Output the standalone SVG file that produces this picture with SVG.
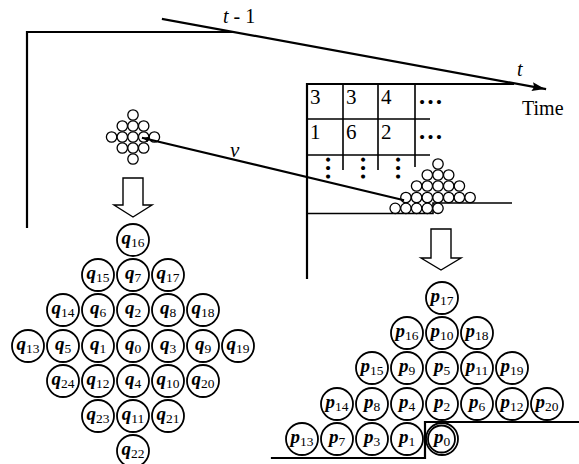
<svg xmlns="http://www.w3.org/2000/svg" width="579" height="464" viewBox="0 0 579 464">
<style>
.ln{stroke:#000;fill:none;stroke-width:2.2;stroke-linecap:square}
.tl{stroke:#000;fill:none;stroke-width:1.6}
.c{fill:#fff;stroke:#000;stroke-width:1.8}
.sc{fill:#fff;stroke:#000;stroke-width:1.3}
.ha{fill:#fff;stroke:#000;stroke-width:1.4;stroke-linejoin:miter}
.t{font-family:"Liberation Serif","Times New Roman",serif;font-size:20px;fill:#000}
.big{font-size:21px}
.it{font-style:italic}
.lb{font-family:"Liberation Serif","Times New Roman",serif;font-size:19px;font-weight:bold;font-style:italic;text-anchor:middle;fill:#000}
.sb{font-weight:normal;font-style:normal;font-size:13.5px}
.dots{font-family:"Liberation Serif","Times New Roman",serif;font-size:25px;font-weight:bold;fill:#000}
</style>
<defs>
<marker id="ah" markerUnits="userSpaceOnUse" markerWidth="14" markerHeight="10" refX="13" refY="4.5" orient="auto">
<path d="M0,0 L13,4.5 L0,9 L2,4.5 z" fill="#000"/>
</marker>
<marker id="sa" markerUnits="userSpaceOnUse" markerWidth="8" markerHeight="8" refX="6" refY="3" orient="auto-start-reverse">
<path d="M0,0 L6,3 L0,6 z" fill="#000"/>
</marker>
</defs>
<rect width="579" height="464" fill="#fff"/>

<g id="frame-t-1">
<path class="ln" d="M27,227 L27,32 L232,32"/>
<text class="t" x="223" y="23"><tspan class="it">t</tspan> - 1</text>
</g>

<g id="table">
<path class="ln" d="M307,84 L513,84 M307,84 L307,278"/>
<path class="tl" d="M307,119 L430,119 M307,155 L430,155 M343,84 L343,170 M378,84 L378,170 M415,84 L415,167"/>
<text class="t big" x="310" y="104">3</text>
<text class="t big" x="346" y="104">3</text>
<text class="t big" x="381" y="104">4</text>
<text class="dots" x="418" y="104">…</text>
<text class="t big" x="310" y="139">1</text>
<text class="t big" x="346" y="139">6</text>
<text class="t big" x="381" y="139">2</text>
<text class="dots" x="418" y="139">…</text>
<text class="dots" transform="translate(325.5,168) rotate(90)" text-anchor="middle">…</text>
<text class="dots" transform="translate(360.5,168) rotate(90)" text-anchor="middle">…</text>
<text class="dots" transform="translate(395.5,168) rotate(90)" text-anchor="middle">…</text>
<path class="tl" d="M307,213.5 L433,213.5 L433,203 L512,203"/>
</g>

<g id="time-labels">
<text class="t it" x="517" y="76">t</text>
<text class="t" x="522" y="115">Time</text>
</g>

<g id="small-q">
<circle class="sc" cx="133" cy="115" r="5.2"/>
<circle class="sc" cx="122.3" cy="126" r="5.2"/><circle class="sc" cx="133" cy="126" r="5.2"/><circle class="sc" cx="143.7" cy="126" r="5.2"/>
<circle class="sc" cx="111.6" cy="137" r="5.2"/><circle class="sc" cx="122.3" cy="137" r="5.2"/><circle class="sc" cx="133" cy="137" r="5.2"/><circle class="sc" cx="143.7" cy="137" r="5.2"/><circle class="sc" cx="154.4" cy="137" r="5.2"/>
<circle class="sc" cx="122.3" cy="148" r="5.2"/><circle class="sc" cx="133" cy="148" r="5.2"/><circle class="sc" cx="143.7" cy="148" r="5.2"/>
<circle class="sc" cx="133" cy="159" r="5.2"/>
</g>

<g id="small-p">
<circle class="sc" cx="438" cy="164" r="5.2"/>
<circle class="sc" cx="427.3" cy="175" r="5.2"/><circle class="sc" cx="438" cy="175" r="5.2"/><circle class="sc" cx="448.7" cy="175" r="5.2"/>
<circle class="sc" cx="416.6" cy="186" r="5.2"/><circle class="sc" cx="427.3" cy="186" r="5.2"/><circle class="sc" cx="438" cy="186" r="5.2"/><circle class="sc" cx="448.7" cy="186" r="5.2"/><circle class="sc" cx="459.4" cy="186" r="5.2"/>
<circle class="sc" cx="405.9" cy="197.5" r="5.2"/><circle class="sc" cx="416.6" cy="197.5" r="5.2"/><circle class="sc" cx="427.3" cy="197.5" r="5.2"/><circle class="sc" cx="438" cy="197.5" r="5.2"/><circle class="sc" cx="448.7" cy="197.5" r="5.2"/><circle class="sc" cx="459.4" cy="197.5" r="5.2"/><circle class="sc" cx="470.1" cy="197.5" r="5.2"/>
<circle class="sc" cx="395.2" cy="208.3" r="5.2"/><circle class="sc" cx="405.9" cy="208.3" r="5.2"/><circle class="sc" cx="416.6" cy="208.3" r="5.2"/><circle class="sc" cx="427.3" cy="208.3" r="5.2"/><circle class="sc" cx="438" cy="208.3" r="5.2"/>
</g>

<g id="connectors">
<line class="ln" x1="163" y1="19" x2="545" y2="89" marker-end="url(#ah)"/>
<line class="ln" x1="143" y1="138" x2="403" y2="200" marker-start="url(#sa)"/>
<text class="t it" x="230" y="157" style="font-size:21px">v</text>
<polygon class="ha" points="123,178 143,178 143,205 152,205 133,217 114,205 123,205"/>
<polygon class="ha" points="431,229 451,229 451,258 461,258 441,270 421,258 431,258"/>
</g>

<g id="q16"><circle class="c" cx="133" cy="240" r="16"/><text class="lb" x="133" y="244">q<tspan class="sb" dy="3">16</tspan></text></g>
<g id="q15"><circle class="c" cx="98" cy="275" r="16"/><text class="lb" x="98" y="279">q<tspan class="sb" dy="3">15</tspan></text></g>
<g id="q7"><circle class="c" cx="133" cy="275" r="16"/><text class="lb" x="133" y="279">q<tspan class="sb" dy="3">7</tspan></text></g>
<g id="q17"><circle class="c" cx="168" cy="275" r="16"/><text class="lb" x="168" y="279">q<tspan class="sb" dy="3">17</tspan></text></g>
<g id="q14"><circle class="c" cx="63" cy="310" r="16"/><text class="lb" x="63" y="314">q<tspan class="sb" dy="3">14</tspan></text></g>
<g id="q6"><circle class="c" cx="98" cy="310" r="16"/><text class="lb" x="98" y="314">q<tspan class="sb" dy="3">6</tspan></text></g>
<g id="q2"><circle class="c" cx="133" cy="310" r="16"/><text class="lb" x="133" y="314">q<tspan class="sb" dy="3">2</tspan></text></g>
<g id="q8"><circle class="c" cx="168" cy="310" r="16"/><text class="lb" x="168" y="314">q<tspan class="sb" dy="3">8</tspan></text></g>
<g id="q18"><circle class="c" cx="203" cy="310" r="16"/><text class="lb" x="203" y="314">q<tspan class="sb" dy="3">18</tspan></text></g>
<g id="q13"><circle class="c" cx="28" cy="346" r="16"/><text class="lb" x="28" y="350">q<tspan class="sb" dy="3">13</tspan></text></g>
<g id="q5"><circle class="c" cx="63" cy="346" r="16"/><text class="lb" x="63" y="350">q<tspan class="sb" dy="3">5</tspan></text></g>
<g id="q1"><circle class="c" cx="98" cy="346" r="16"/><text class="lb" x="98" y="350">q<tspan class="sb" dy="3">1</tspan></text></g>
<g id="q0"><circle class="c" cx="133" cy="346" r="16"/><text class="lb" x="133" y="350">q<tspan class="sb" dy="3">0</tspan></text></g>
<g id="q3"><circle class="c" cx="168" cy="346" r="16"/><text class="lb" x="168" y="350">q<tspan class="sb" dy="3">3</tspan></text></g>
<g id="q9"><circle class="c" cx="203" cy="346" r="16"/><text class="lb" x="203" y="350">q<tspan class="sb" dy="3">9</tspan></text></g>
<g id="q19"><circle class="c" cx="238" cy="346" r="16"/><text class="lb" x="238" y="350">q<tspan class="sb" dy="3">19</tspan></text></g>
<g id="q24"><circle class="c" cx="63" cy="381" r="16"/><text class="lb" x="63" y="385">q<tspan class="sb" dy="3">24</tspan></text></g>
<g id="q12"><circle class="c" cx="98" cy="381" r="16"/><text class="lb" x="98" y="385">q<tspan class="sb" dy="3">12</tspan></text></g>
<g id="q4"><circle class="c" cx="133" cy="381" r="16"/><text class="lb" x="133" y="385">q<tspan class="sb" dy="3">4</tspan></text></g>
<g id="q10"><circle class="c" cx="168" cy="381" r="16"/><text class="lb" x="168" y="385">q<tspan class="sb" dy="3">10</tspan></text></g>
<g id="q20"><circle class="c" cx="203" cy="381" r="16"/><text class="lb" x="203" y="385">q<tspan class="sb" dy="3">20</tspan></text></g>
<g id="q23"><circle class="c" cx="98" cy="416" r="16"/><text class="lb" x="98" y="420">q<tspan class="sb" dy="3">23</tspan></text></g>
<g id="q11"><circle class="c" cx="133" cy="416" r="16"/><text class="lb" x="133" y="420">q<tspan class="sb" dy="3">11</tspan></text></g>
<g id="q21"><circle class="c" cx="168" cy="416" r="16"/><text class="lb" x="168" y="420">q<tspan class="sb" dy="3">21</tspan></text></g>
<g id="q22"><circle class="c" cx="133" cy="451" r="16"/><text class="lb" x="133" y="455">q<tspan class="sb" dy="3">22</tspan></text></g>

<g id="ground">
<path class="ln" d="M272,458 L425,458 L425,422 L579,422" stroke-linecap="butt"/>
</g>

<g id="p17"><circle class="c" cx="442" cy="298" r="16"/><text class="lb" x="442" y="302">p<tspan class="sb" dy="3">17</tspan></text></g>
<g id="p16"><circle class="c" cx="407" cy="333" r="16"/><text class="lb" x="407" y="337">p<tspan class="sb" dy="3">16</tspan></text></g>
<g id="p10"><circle class="c" cx="442" cy="333" r="16"/><text class="lb" x="442" y="337">p<tspan class="sb" dy="3">10</tspan></text></g>
<g id="p18"><circle class="c" cx="477" cy="333" r="16"/><text class="lb" x="477" y="337">p<tspan class="sb" dy="3">18</tspan></text></g>
<g id="p15"><circle class="c" cx="372" cy="368" r="16"/><text class="lb" x="372" y="372">p<tspan class="sb" dy="3">15</tspan></text></g>
<g id="p9"><circle class="c" cx="407" cy="368" r="16"/><text class="lb" x="407" y="372">p<tspan class="sb" dy="3">9</tspan></text></g>
<g id="p5"><circle class="c" cx="442" cy="368" r="16"/><text class="lb" x="442" y="372">p<tspan class="sb" dy="3">5</tspan></text></g>
<g id="p11"><circle class="c" cx="477" cy="368" r="16"/><text class="lb" x="477" y="372">p<tspan class="sb" dy="3">11</tspan></text></g>
<g id="p19"><circle class="c" cx="512" cy="368" r="16"/><text class="lb" x="512" y="372">p<tspan class="sb" dy="3">19</tspan></text></g>
<g id="p14"><circle class="c" cx="337" cy="404" r="16"/><text class="lb" x="337" y="408">p<tspan class="sb" dy="3">14</tspan></text></g>
<g id="p8"><circle class="c" cx="372" cy="404" r="16"/><text class="lb" x="372" y="408">p<tspan class="sb" dy="3">8</tspan></text></g>
<g id="p4"><circle class="c" cx="407" cy="404" r="16"/><text class="lb" x="407" y="408">p<tspan class="sb" dy="3">4</tspan></text></g>
<g id="p2"><circle class="c" cx="442" cy="404" r="16"/><text class="lb" x="442" y="408">p<tspan class="sb" dy="3">2</tspan></text></g>
<g id="p6"><circle class="c" cx="477" cy="404" r="16"/><text class="lb" x="477" y="408">p<tspan class="sb" dy="3">6</tspan></text></g>
<g id="p12"><circle class="c" cx="512" cy="404" r="16"/><text class="lb" x="512" y="408">p<tspan class="sb" dy="3">12</tspan></text></g>
<g id="p20"><circle class="c" cx="547" cy="404" r="16"/><text class="lb" x="547" y="408">p<tspan class="sb" dy="3">20</tspan></text></g>
<g id="p13"><circle class="c" cx="302" cy="439" r="16"/><text class="lb" x="302" y="443">p<tspan class="sb" dy="3">13</tspan></text></g>
<g id="p7"><circle class="c" cx="337" cy="439" r="16"/><text class="lb" x="337" y="443">p<tspan class="sb" dy="3">7</tspan></text></g>
<g id="p3"><circle class="c" cx="372" cy="439" r="16"/><text class="lb" x="372" y="443">p<tspan class="sb" dy="3">3</tspan></text></g>
<g id="p1"><circle class="c" cx="407" cy="439" r="16"/><text class="lb" x="407" y="443">p<tspan class="sb" dy="3">1</tspan></text></g>
<g id="p0"><circle class="c" cx="442" cy="439" r="16"/><circle class="c" cx="441.5" cy="439" r="13.5" fill="none"/><text class="lb" x="442" y="443">p<tspan class="sb" dy="3">0</tspan></text></g>
</svg>
